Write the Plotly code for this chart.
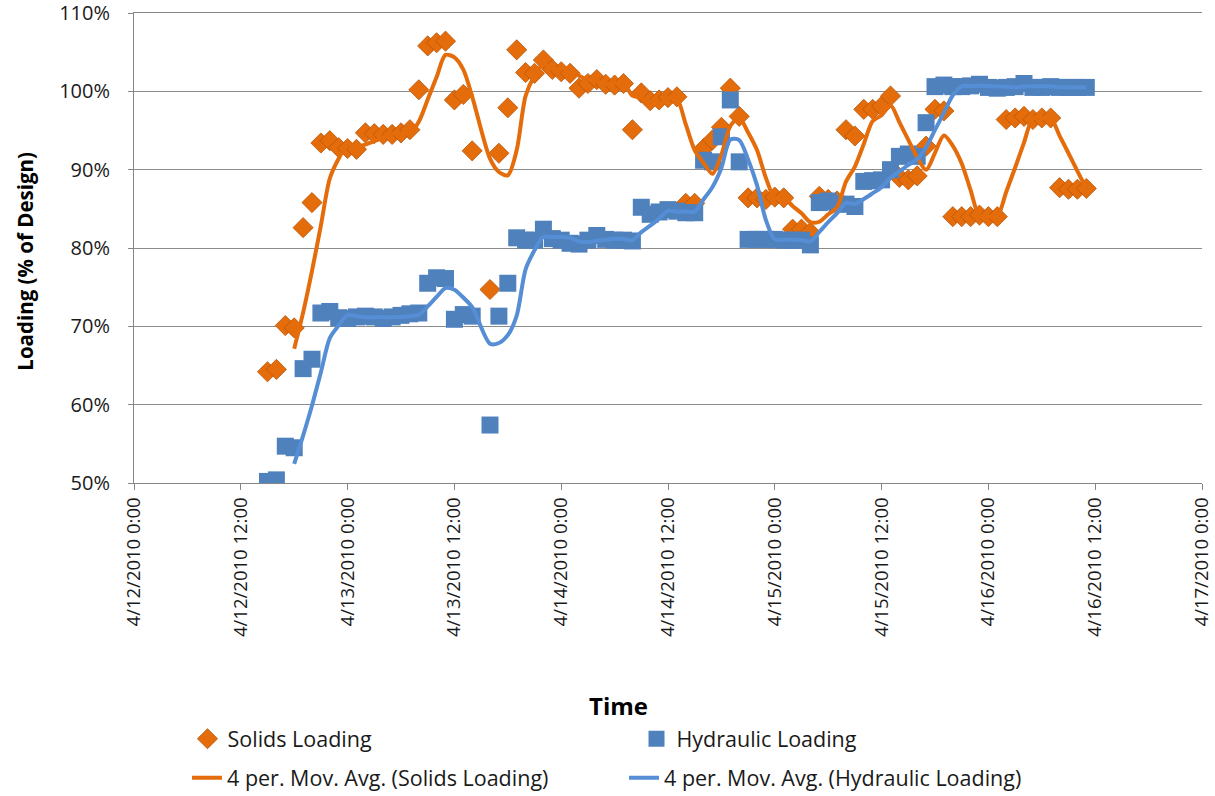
import pandas as pd
import plotly.graph_objects as go

# hours after 4/12/2010 0:00 of each sample
sample_hours = [15, 16, 17, 18, 19, 20, 21, 22, 23, 24, 25, 26, 27, 28, 29, 30, 31, 32, 33, 34,
                35, 36, 37, 38, 40, 41, 42, 43, 44, 45, 46, 47, 48, 49, 50, 51, 52, 53, 54, 55,
                56, 57, 58, 59, 60, 61, 62, 63, 64, 65, 66, 67, 68, 69, 70, 71, 72, 73, 74, 75,
                76, 77, 78, 79, 80, 81, 82, 83, 84, 85, 86, 87, 88, 89, 90, 91, 92, 93, 94, 95,
                96, 97, 98, 99, 100, 101, 102, 103, 104, 105, 106, 107]

solids_loading = [64.2, 64.5, 70.1, 69.8, 82.6, 85.8, 93.4, 93.7, 92.8, 92.7, 92.6, 94.7, 94.6, 94.5,
                  94.5, 94.7, 95.1, 100.2, 105.8, 106.2, 106.4, 98.9, 99.6, 92.4, 74.7, 92.1, 97.9,
                  105.3, 102.4, 102.3, 104.0, 102.8, 102.5, 102.3, 100.4, 101.0, 101.5, 100.9, 100.8,
                  101.0, 95.1, 99.8, 98.8, 98.9, 99.2, 99.3, 85.7, 85.7, 92.7, 93.8, 95.4, 100.4, 96.8,
                  86.4, 86.4, 86.2, 86.5, 86.4, 82.4, 82.4, 82.0, 86.6, 86.2, 86.0, 95.1, 94.3, 97.7,
                  97.7, 98.1, 99.4, 89.0, 88.7, 89.2, 93.0, 97.7, 97.5, 84.0, 84.0, 84.0, 84.2, 84.0,
                  84.0, 96.4, 96.6, 96.8, 96.4, 96.6, 96.6, 87.7, 87.5, 87.5, 87.6]

hydraulic_loading = [50.2, 50.4, 54.7, 54.5, 64.6, 65.8, 71.7, 71.9, 71.1, 71.0, 71.2, 71.3, 71.2, 71.0,
                     71.2, 71.4, 71.6, 71.7, 75.5, 76.2, 76.1, 70.9, 71.5, 71.3, 57.4, 71.3, 75.5,
                     81.3, 81.0, 81.0, 82.4, 81.2, 81.0, 80.6, 80.5, 81.0, 81.6, 81.1, 81.0, 81.0,
                     80.9, 85.2, 84.3, 84.6, 84.9, 84.7, 84.5, 84.5, 91.2, 91.0, 94.2, 98.9, 91.0,
                     81.1, 81.1, 81.1, 81.1, 81.0, 81.0, 81.0, 80.4, 85.8, 86.0, 85.6, 85.6, 85.3,
                     88.5, 88.6, 88.7, 90.0, 91.7, 92.0, 91.7, 96.0, 100.6, 100.8, 100.6, 100.6,
                     100.7, 100.9, 100.5, 100.4, 100.5, 100.6, 101.0, 100.5, 100.5, 100.6, 100.5,
                     100.5, 100.5, 100.5]

tick_values = ["2010-04-12 00:00", "2010-04-12 12:00", "2010-04-13 00:00", "2010-04-13 12:00",
               "2010-04-14 00:00", "2010-04-14 12:00", "2010-04-15 00:00", "2010-04-15 12:00",
               "2010-04-16 00:00", "2010-04-16 12:00", "2010-04-17 00:00"]
tick_labels = ["4/12/2010 0:00", "4/12/2010 12:00", "4/13/2010 0:00", "4/13/2010 12:00",
               "4/14/2010 0:00", "4/14/2010 12:00", "4/15/2010 0:00", "4/15/2010 12:00",
               "4/16/2010 0:00", "4/16/2010 12:00", "4/17/2010 0:00"]

ORANGE = "#E46C0A"
BLUE = "#4F81BD"
FONT = "Open Sans"
TEXT = "#1a1a1a"

# figure geometry in screenshot pixels (page margin removed by post_script)
FW, FH = 1215, 796
PLOT_LEFT, PLOT_RIGHT, PLOT_TOP, PLOT_BOTTOM = 134, 1202, 13.4, 483.3
L, R, T, B = PLOT_LEFT, FW - PLOT_RIGHT, PLOT_TOP, FH - PLOT_BOTTOM
PW, PH = PLOT_RIGHT - PLOT_LEFT, PLOT_BOTTOM - PLOT_TOP


def px_x(px):
    return (px - PLOT_LEFT) / PW


def px_y(py):
    return (PLOT_BOTTOM - py) / PH


times = pd.Timestamp("2010-04-12 00:00") + pd.to_timedelta(sample_hours, unit="h")
df = pd.DataFrame({"t": times, "s": solids_loading, "h": hydraulic_loading})
df["s_ma"] = df["s"].rolling(4).mean()
df["h_ma"] = df["h"].rolling(4).mean()
ma = df.dropna()

fig = go.Figure()
fig.add_trace(go.Scatter(x=df["t"], y=df["s"], mode="markers", name="Solids Loading",
                         marker=dict(symbol="diamond", size=15.5, color=ORANGE,
                                     line=dict(width=0.8, color="#B8560A"))))
fig.add_trace(go.Scatter(x=df["t"], y=df["h"], mode="markers", name="Hydraulic Loading",
                         marker=dict(symbol="square", size=17, color=BLUE,
                                     line=dict(width=0))))
fig.add_trace(go.Scatter(x=ma["t"], y=ma["s_ma"], mode="lines", name="4 per. Mov. Avg. (Solids Loading)",
                         line=dict(color=ORANGE, width=4, shape="spline", smoothing=0.8),
                         legend="legend2"))
fig.add_trace(go.Scatter(x=ma["t"], y=ma["h_ma"], mode="lines", name="4 per. Mov. Avg. (Hydraulic Loading)",
                         line=dict(color="#558ED5", width=4, shape="spline", smoothing=0.8),
                         legend="legend2"))

fig.update_layout(
    width=FW, height=FH,
    margin=dict(l=L, r=R, t=T, b=B, autoexpand=False),
    plot_bgcolor="white", paper_bgcolor="white",
    font=dict(family=FONT, color=TEXT),
    xaxis=dict(type="date", range=[tick_values[0], tick_values[-1]],
               tickmode="array", tickvals=tick_values, ticktext=tick_labels,
               tickangle=-90, tickfont=dict(size=18.5, color=TEXT),
               ticks="outside", ticklen=6, tickcolor="#868686",
               showline=True, linecolor="#868686", linewidth=1, mirror=True,
               showgrid=False, zeroline=False, automargin=False),
    yaxis=dict(range=[50, 110], dtick=10, tick0=50, ticksuffix="%",
               tickfont=dict(size=20, color=TEXT), ticklabeloverflow="allow",
               ticks="outside", ticklen=5, tickcolor="#868686", ticklabelstandoff=14,
               showline=True, linecolor="#868686", linewidth=1,
               showgrid=True, gridcolor="#8C8C8C", gridwidth=1, zeroline=False,
               automargin=False),
    legend=dict(orientation="h", x=px_x(187.5), xanchor="left", y=px_y(739), yanchor="middle",
                font=dict(size=21.5, family=FONT, color=TEXT),
                entrywidth=404, entrywidthmode="pixels", bgcolor="rgba(0,0,0,0)"),
    legend2=dict(orientation="h", x=px_x(187), xanchor="left", y=px_y(778), yanchor="middle",
                 font=dict(size=21.5, family=FONT, color=TEXT),
                 entrywidth=392, entrywidthmode="pixels", bgcolor="rgba(0,0,0,0)"),
    annotations=[
        dict(text="<b>Loading (% of Design)</b>", x=px_x(25), y=px_y(262), xref="paper", yref="paper",
             xanchor="center", yanchor="middle", textangle=-90, showarrow=False,
             font=dict(size=20.5, family=FONT, color="#000000")),
        dict(text="<b>Time</b>", x=px_x(618), y=px_y(706), xref="paper", yref="paper",
             xanchor="center", yanchor="middle", showarrow=False,
             font=dict(size=24, family=FONT, color="#000000")),
    ],
)

fig.write_html("out.html", config={"displayModeBar": False},
               post_script="document.body.style.margin='0';")
